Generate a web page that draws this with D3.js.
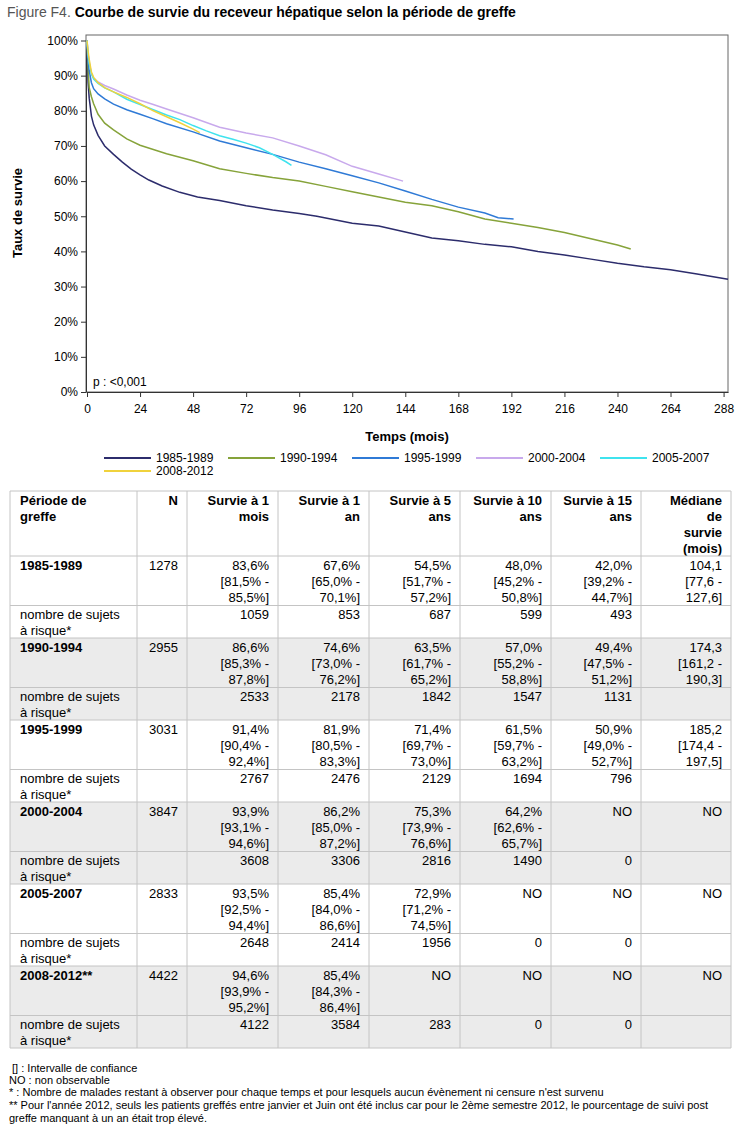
<!DOCTYPE html>
<html>
<head>
<meta charset="utf-8">
<script src="https://cdn.jsdelivr.net/npm/d3@7"></script>
<style>
  body { margin: 0; background: #fff; }
  svg text { font-family: "Liberation Sans", Arial, sans-serif; }
</style>
</head>
<body>
<script>
// Courbes : temps (mois) et survie (%)
var periods = ["1985-1989", "1990-1994", "1995-1999", "2000-2004", "2005-2007", "2008-2012"]
var colors  = ["#2c2c6c", "#86a33a", "#2f7ad6", "#c8a9ec", "#3fe3ee", "#f0d23c"]

var t1985 = [0, 0.5, 1, 2, 3, 5, 8, 12, 16, 20, 24, 28, 34, 42, 50, 60, 72, 84, 96, 104, 112, 120, 132, 144, 156, 168, 180, 192, 204, 216, 228, 240, 252, 264, 276, 290]
var s1985 = [100, 88, 83.6, 78.5, 76, 73, 70, 67.6, 65.4, 63.4, 61.8, 60.3, 58.6, 56.8, 55.5, 54.5, 53, 51.8, 50.8, 50, 49, 48, 47.2, 45.5, 43.8, 43, 42, 41.3, 40, 39, 37.8, 36.6, 35.6, 34.8, 33.6, 32.1]
var t1990 = [0, 0.5, 1, 2, 3, 5, 8, 12, 18, 24, 30, 36, 42, 48, 60, 72, 84, 96, 108, 120, 132, 144, 156, 168, 180, 192, 204, 216, 228, 240, 246]
var s1990 = [100, 92, 86.6, 84, 82, 79, 76.5, 74.6, 72, 70.2, 69, 67.8, 66.8, 65.8, 63.5, 62.2, 61, 60, 58.5, 57, 55.5, 54, 53, 51.3, 49.2, 48, 46.8, 45.4, 43.6, 41.8, 40.7]
var t1995 = [0, 0.5, 1, 2, 3, 5, 8, 12, 18, 24, 30, 36, 48, 60, 72, 84, 96, 108, 120, 132, 144, 156, 168, 180, 186, 193]
var s1995 = [100, 94, 91.4, 88, 86.3, 84.8, 83.4, 81.9, 80.3, 79, 77.7, 76.3, 74, 71.4, 69.5, 67.6, 65.4, 63.5, 61.5, 59.5, 57.2, 54.8, 52.6, 50.9, 49.6, 49.2]
var t2000 = [0, 0.5, 1, 2, 3, 5, 8, 12, 18, 24, 30, 36, 48, 60, 72, 84, 96, 108, 120, 132, 143]
var s2000 = [100, 96, 93.9, 90.5, 89.3, 88.2, 87.2, 86.2, 84.5, 83, 81.8, 80.5, 78, 75.3, 73.7, 72.3, 70, 67.5, 64.2, 62, 60]
var t2005 = [0, 0.5, 1, 2, 3, 5, 8, 12, 18, 24, 30, 36, 42, 48, 54, 60, 66, 72, 78, 84, 90, 92.5]
var s2005 = [100, 96, 93.5, 90.5, 89, 87.8, 86.5, 85.4, 83.3, 81.8, 80.3, 78.8, 77.5, 75.8, 74.3, 72.9, 71.9, 70.8, 69.5, 67.6, 65.5, 64.5]
var t2008 = [0, 0.5, 1, 2, 3, 5, 8, 12, 18, 24, 30, 36, 42, 48, 51]
var s2008 = [100, 97, 94.6, 91, 89.5, 88, 86.6, 85.4, 83.8, 82, 80, 78.3, 76.6, 74.8, 73.8]

var curveTimes  = [t1985, t1990, t1995, t2000, t2005, t2008]
var curveValues = [s1985, s1990, s1995, s2000, s2005, s2008]

var xTicks = [0, 24, 48, 72, 96, 120, 144, 168, 192, 216, 240, 264, 288]
var yTicks = [0, 10, 20, 30, 40, 50, 60, 70, 80, 90, 100]

// Tableau
var tablePeriods = ["1985-1989", "1990-1994", "1995-1999", "2000-2004", "2005-2007", "2008-2012**"]
var nPatients = [1278, 2955, 3031, 3847, 2833, 4422]
var surv1m  = [83.6, 86.6, 91.4, 93.9, 93.5, 94.6]
var ci1m    = [[81.5, 85.5], [85.3, 87.8], [90.4, 92.4], [93.1, 94.6], [92.5, 94.4], [93.9, 95.2]]
var surv1a  = [67.6, 74.6, 81.9, 86.2, 85.4, 85.4]
var ci1a    = [[65.0, 70.1], [73.0, 76.2], [80.5, 83.3], [85.0, 87.2], [84.0, 86.6], [84.3, 86.4]]
var surv5a  = [54.5, 63.5, 71.4, 75.3, 72.9, null]
var ci5a    = [[51.7, 57.2], [61.7, 65.2], [69.7, 73.0], [73.9, 76.6], [71.2, 74.5], null]
var surv10a = [48.0, 57.0, 61.5, 64.2, null, null]
var ci10a   = [[45.2, 50.8], [55.2, 58.8], [59.7, 63.2], [62.6, 65.7], null, null]
var surv15a = [42.0, 49.4, 50.9, null, null, null]
var ci15a   = [[39.2, 44.7], [47.5, 51.2], [49.0, 52.7], null, null, null]
var medians = [104.1, 174.3, 185.2, null, null, null]
var ciMed   = [[77.6, 127.6], [161.2, 190.3], [174.4, 197.5], null, null, null]
var atRisk  = [[1059, 853, 687, 599, 493], [2533, 2178, 1842, 1547, 1131], [2767, 2476, 2129, 1694, 796],
               [3608, 3306, 2816, 1490, 0], [2648, 2414, 1956, 0, 0], [4122, 3584, 283, 0, 0]]

var headers = [["Période de", "greffe"], ["N"], ["Survie à 1", "mois"], ["Survie à 1", "an"],
               ["Survie à 5", "ans"], ["Survie à 10", "ans"], ["Survie à 15", "ans"],
               ["Médiane", "de", "survie", "(mois)"]]

var notes = [" [] : Intervalle de confiance", "NO : non observable",
  "* : Nombre de malades restant à observer pour chaque temps et pour lesquels aucun évènement ni censure n'est survenu",
  "** Pour l'année 2012, seuls les patients greffés entre janvier et Juin ont été inclus car pour le 2ème semestre 2012, le pourcentage de suivi post",
  "greffe manquant à un an était trop élevé."]

var W = 744, H = 1139
var svg = d3.select('body').append('svg').attr('width', W).attr('height', H)

// Titre
var title = svg.append('text').attr('x', 7).attr('y', 17).attr('font-size', '14px')
title.append('tspan').attr('fill', '#555').text('Figure F4. ')
title.append('tspan').attr('font-weight', 'bold').attr('fill', '#000')
     .text('Courbe de survie du receveur hépatique selon la période de greffe')

// Echelles
var x = d3.scaleLinear().domain([0, 290]).range([87, 728])
var y = d3.scaleLinear().domain([0, 100]).range([392, 40.5])

// Cadre
svg.append('rect').attr('x', 86).attr('y', 35).attr('width', 642).attr('height', 357)
   .attr('fill', 'none').attr('stroke', '#666').attr('stroke-width', 1)

var fmtPct = function(d){ return d + '%' }
var yAxis = svg.append('g').attr('transform', 'translate(86,0)')
   .call(d3.axisLeft(y).tickValues(yTicks).tickFormat(fmtPct).tickSize(5).tickSizeOuter(0))
var xAxis = svg.append('g').attr('transform', 'translate(0,392)')
   .call(d3.axisBottom(x).tickValues(xTicks).tickSize(5).tickSizeOuter(0))
;[yAxis, xAxis].forEach(function(a){
  a.select('.domain').attr('stroke', '#333')
  a.selectAll('.tick line').attr('stroke', '#333')
  a.selectAll('.tick text').attr('font-size', '12px').attr('fill', '#000')
   .attr('font-family', '"Liberation Sans", Arial, sans-serif')
})
yAxis.selectAll('.tick text').attr('x', -8)
xAxis.selectAll('.tick text').attr('y', 12)

// Libellés des axes
svg.append('text').attr('transform', 'translate(22,213) rotate(-90)').attr('text-anchor', 'middle')
   .attr('font-size', '13px').attr('font-weight', 'bold').text('Taux de survie')
svg.append('text').attr('x', 407).attr('y', 441).attr('text-anchor', 'middle')
   .attr('font-size', '13px').attr('font-weight', 'bold').text('Temps (mois)')
svg.append('text').attr('x', 93).attr('y', 386).attr('font-size', '12px').text('p : <0,001')

// Courbes
var line = d3.line().x(function(d){ return x(d[0]) }).y(function(d){ return y(d[1]) })
svg.append('g').selectAll('path')
   .data(curveTimes.map(function(ts, i){ return ts.map(function(t, j){ return [t, curveValues[i][j]] }) }))
   .enter().append('path')
   .attr('d', line).attr('fill', 'none')
   .attr('stroke', function(d, i){ return colors[i] }).attr('stroke-width', 1.5)

// Légende
var leg = svg.append('g').selectAll('g').data(periods).enter().append('g')
   .attr('transform', function(d, i){ return 'translate(' + (104 + (i % 5) * 124) + ',' + (458 + Math.floor(i / 5) * 13) + ')' })
leg.append('line').attr('x1', 0).attr('x2', 47).attr('stroke', function(d, i){ return colors[i] }).attr('stroke-width', 2)
leg.append('text').attr('x', 52).attr('y', 4).attr('font-size', '12px').text(function(d){ return d })

// Tableau
var colX = [10, 137, 187, 278, 369, 460, 551, 641, 731]
var f1 = function(v){ return v.toFixed(1).replace('.', ',') }
var rows = [{ h: 65, bg: '#fff', bold: true, cells: headers }]
tablePeriods.forEach(function(p, i){
  var bg = (i % 2 === 1) ? '#ebebeb' : '#fff'
  var sc = function(v, ci){ return v === null ? ['NO'] : [f1(v) + '%', '[' + f1(ci[0]) + '% -', f1(ci[1]) + '%]'] }
  var md = medians[i] === null ? ['NO'] : [f1(medians[i]), '[' + f1(ciMed[i][0]) + ' -', f1(ciMed[i][1]) + ']']
  rows.push({ h: 49.5, bg: bg, bold: false, boldFirst: true,
    cells: [[p], [String(nPatients[i])], sc(surv1m[i], ci1m[i]), sc(surv1a[i], ci1a[i]), sc(surv5a[i], ci5a[i]),
            sc(surv10a[i], ci10a[i]), sc(surv15a[i], ci15a[i]), md] })
  rows.push({ h: 32.5, bg: bg, bold: false,
    cells: [['nombre de sujets', 'à risque*'], []].concat(atRisk[i].map(function(v){ return [String(v)] })).concat([[]]) })
})

var tbl = svg.append('g')
var rowTop = 491
rows.forEach(function(r){
  r.y = rowTop
  rowTop += r.h
})
tbl.selectAll(null).data(rows).enter().append('rect')
   .attr('x', colX[0]).attr('y', function(r){ return r.y }).attr('width', colX[8] - colX[0])
   .attr('height', function(r){ return r.h }).attr('fill', function(r){ return r.bg })
rows.forEach(function(r){
  r.cells.forEach(function(lines, c){
    var left = c === 0
    tbl.selectAll(null).data(lines).enter().append('text')
       .attr('x', left ? colX[c] + 10 : colX[c + 1] - 9)
       .attr('y', function(d, k){ return r.y + 13.5 + k * 16 })
       .attr('text-anchor', left ? 'start' : 'end')
       .attr('font-size', '13px')
       .attr('font-weight', (r.bold || (r.boldFirst && c === 0)) ? 'bold' : 'normal')
       .text(function(d){ return d })
  })
})
var hLines = rows.map(function(r){ return r.y }).concat([rowTop])
tbl.selectAll(null).data(hLines).enter().append('line')
   .attr('x1', colX[0]).attr('x2', colX[8]).attr('y1', function(d){ return d }).attr('y2', function(d){ return d })
   .attr('stroke', '#c4c4c4')
tbl.selectAll(null).data(colX).enter().append('line')
   .attr('x1', function(d){ return d }).attr('x2', function(d){ return d })
   .attr('y1', 491).attr('y2', rowTop).attr('stroke', '#c4c4c4')

// Notes
svg.append('g').selectAll('text').data(notes).enter().append('text')
   .attr('x', 9).attr('y', function(d, i){ return [1072, 1084, 1096, 1109, 1122][i] })
   .attr('font-size', '11px').attr('xml:space', 'preserve').style('white-space', 'pre')
   .text(function(d){ return d })
</script>
</body>
</html>
